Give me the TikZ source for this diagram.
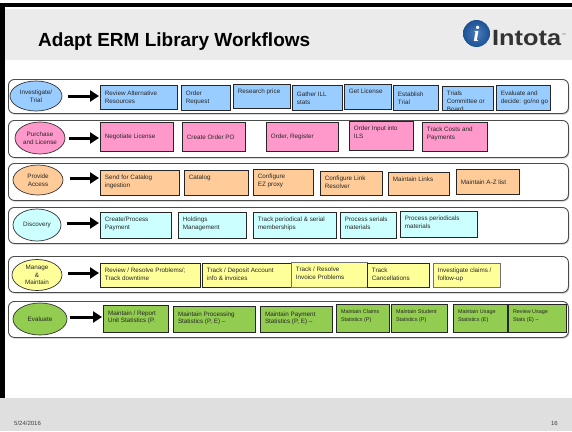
\documentclass[tikz,border=0pt]{standalone}
\usepackage{fontspec}
\setmainfont{Liberation Sans}
\newfontfamily\serifit{Liberation Serif}
\usetikzlibrary{shapes.geometric,arrows.meta,shadows}
\definecolor{blueF}{HTML}{99CCFF}
\definecolor{pinkF}{HTML}{FF99CC}
\definecolor{orangeF}{HTML}{FFCC99}
\definecolor{cyanF}{HTML}{CCFFFF}
\definecolor{yellowF}{HTML}{FFFF99}
\definecolor{greenF}{HTML}{92CC50}
\definecolor{bandgray}{HTML}{EBEBEB}
\definecolor{logoblue}{HTML}{1F5AA6}
\newcommand\bx[8]{%
  \pgfmathsetmacro\bxw{#5-#3}%
  \pgfmathsetmacro\bxh{#6-#4}%
  \pgfmathsetmacro\bxtw{#5-#3-9}%
  \pgfmathsetmacro\bxth{#6-#4-10}%
  \node[#1, anchor=north west, minimum width=\bxw pt, minimum height=\bxh pt] (#2) at (#3,#4)
    {\parbox[c][\bxth pt][#7]{\bxtw pt}{\raggedright #8}};%
}
\tikzset{
  boxn/.style={draw=black!85, line width=0.8pt, inner sep=0pt, text=black!85,
    font=\fontsize{6.3}{7.8}\selectfont},
  graybox/.style={boxn, draw=black!55},
  rowbox/.style={draw=black!70, line width=0.9pt, rounded corners=6pt, fill=white,
    inner sep=0pt, drop shadow={opacity=0.45, shadow xshift=0.8pt, shadow yshift=-1.2pt}},
  ell/.style={ellipse, draw=black!80, line width=0.7pt, inner sep=0pt, align=center,
    text=black!85, font=\fontsize{6.3}{7.8}\selectfont},
  bigarrow/.style={line width=3pt, -{Triangle[length=9pt,width=11pt]}, shorten >=1pt},
  small/.style={font=\fontsize{5.4}{7.6}\selectfont}
}
\begin{document}
\begin{tikzpicture}[x=1pt,y=-1pt]
\useasboundingbox (0,0) rectangle (572,431);
\fill[white] (0,0) rectangle (572,431);
% header and footer bands
\fill[bandgray] (0,8.5) rectangle (572,60);
\fill[bandgray!95!black] (0,398) rectangle (572,431);
\fill[black] (0,2.5) rectangle (572,6.5);
\fill[black] (0,2.5) rectangle (5,398);
% title
\node[anchor=base west, inner sep=0pt, font=\fontsize{19}{22}\selectfont\bfseries] (title) at (38,46) {Adapt ERM Library Workflows};
% logo
\node[circle, minimum size=27pt, inner sep=0pt, shade, inner color=logoblue!80!white, outer color=logoblue!90!black] (logo) at (476.5,33.5) {};
\node[inner sep=0pt, text=white, font=\fontsize{22}{22}\serifit\bfseries\itshape] (logoi) at (logo.center) {i};
\node[anchor=base west, inner sep=0pt, text=black!80, font=\fontsize{22}{22}\selectfont\bfseries] (intota) at (492,45) {\scalebox{1.15}[1]{Intota}};
\node[anchor=north west, inner sep=0pt, xshift=0.5pt, yshift=-4pt, text=black!60, font=\fontsize{4}{4}\selectfont] (tm) at (intota.north east) {™};
% footer
\node[anchor=base west, inner sep=0pt, text=black!75, font=\fontsize{6}{7}\selectfont] (date) at (14,425) {5/24/2016};
\node[anchor=base east, inner sep=0pt, text=black!75, font=\fontsize{6}{7}\selectfont] (pnum) at (558,425) {16};
% rows
\node[rowbox, anchor=north west, minimum width=560pt, minimum height=34pt] (r1) at (8,79) {};
\node[rowbox, anchor=north west, minimum width=560pt, minimum height=37pt] (r2) at (8,120) {};
\node[rowbox, anchor=north west, minimum width=560pt, minimum height=37pt] (r3) at (8,163) {};
\node[rowbox, anchor=north west, minimum width=560pt, minimum height=36pt] (r4) at (8,207) {};
\node[rowbox, anchor=north west, minimum width=560pt, minimum height=36pt] (r5) at (8,256) {};
\node[rowbox, anchor=north west, minimum width=560pt, minimum height=36pt] (r6) at (8,301) {};
% ellipses
\node[ell, fill=blueF, minimum width=52pt, minimum height=30pt] (e1) at (36,96) {Investigate/\\Trial};
\node[ell, fill=pinkF, minimum width=50pt, minimum height=32pt] (e2) at (40,138) {Purchase\\and License};
\node[ell, fill=orangeF, minimum width=50pt, minimum height=30pt] (e3) at (38,180) {Provide\\Access};
\node[ell, fill=cyanF, minimum width=48pt, minimum height=32pt] (e4) at (37,225) {Discovery};
\node[ell, fill=yellowF, minimum width=50pt, minimum height=31pt] (e5) at (37,275) {Manage\\\&\\Maintain};
\node[ell, fill=greenF, minimum width=54pt, minimum height=32pt] (e6) at (40,319) {Evaluate};
% row 1
\bx{boxn, fill=blueF}{b11}{100}{85}{177}{109}{c}{Review Alternative\\Resources}
\bx{boxn, fill=blueF}{b12}{181}{85}{230}{110}{c}{Order\\Request}
\bx{boxn, fill=blueF}{b13}{233}{84}{290}{108}{t}{Research price}
\bx{boxn, fill=blueF}{b14}{292}{85}{342}{110}{c}{Gather ILL\\stats}
\bx{boxn, fill=blueF}{b15}{344}{84}{391}{109}{t}{Get License}
\bx{boxn, fill=blueF}{b16}{393}{85}{438}{110}{c}{Establish\\Trial}
\begin{scope}
\clip (440,83) rectangle (495,112.5);
\bx{boxn, fill=blueF}{b17}{442}{86}{493}{110}{t}{Trials\\Committee or\\Board}
\end{scope}
\bx{boxn, fill=blueF}{b18}{496}{85}{550}{110}{c}{Evaluate and\\\mbox{decide: go/no go}}
% row 2
\bx{boxn, fill=pinkF}{b21}{100}{122}{173}{151}{c}{Negotiate License}
\bx{boxn, fill=pinkF}{b22}{182}{122}{245}{151}{c}{Create Order PO}
\bx{boxn, fill=pinkF}{b23}{266}{122}{338}{151}{c}{Order, Register}
\bx{boxn, fill=pinkF}{b24}{349}{121}{413}{150}{t}{Order Input into\\ILS}
\bx{boxn, fill=pinkF}{b25}{422}{122}{487}{151}{t}{Track Costs and\\Payments}
% row 3
\bx{boxn, fill=orangeF}{b31}{100}{170}{179}{195}{t}{Send for Catalog\\ingestion}
\bx{boxn, fill=orangeF}{b32}{184}{170}{248}{195}{t}{Catalog}
\bx{boxn, fill=orangeF}{b33}{253}{169}{313}{195}{t}{Configure\\EZ proxy}
\bx{boxn, fill=orangeF}{b34}{320}{171}{382}{195}{t}{Configure Link\\Resolver}
\bx{boxn, fill=orangeF}{b35}{388}{172}{449}{195}{t}{Maintain Links}
\bx{boxn, fill=orangeF}{b36}{456}{169}{519}{194}{c}{Maintain A-Z list}
% row 4
\bx{boxn, fill=cyanF}{b41}{100}{212}{171}{238}{t}{Create/Process\\Payment}
\bx{boxn, fill=cyanF}{b42}{178}{212}{246}{238}{t}{Holdings\\Management}
\bx{boxn, fill=cyanF}{b43}{253}{212}{336}{238}{t}{Track periodical \& serial\\memberships}
\bx{boxn, fill=cyanF}{b44}{340}{212}{396}{238}{t}{Process serials\\materials}
\bx{boxn, fill=cyanF}{b45}{400}{211}{477}{237}{t}{Process periodicals\\materials}
% row 5
\bx{boxn, fill=yellowF}{b51}{100}{263}{200}{287}{t}{Review / Resolve Problems/;\\Track downtime}
\bx{boxn, fill=yellowF}{b52}{202}{263}{291}{287}{t}{Track / Deposit Account\\info \& invoices}
\bx{graybox, fill=yellowF}{b53}{291}{262}{367}{287}{t}{Track / Resolve\\Invoice Problems}
\bx{boxn, fill=yellowF}{b54}{367}{263}{429}{287}{t}{Track\\Cancellations}
\bx{graybox, fill=yellowF}{b55}{433}{263}{500}{287}{t}{Investigate claims /\\follow-up}
% row 6
\bx{boxn, fill=greenF, line width=1pt}{b61}{103}{305}{168}{332}{t}{Maintain / Report\\Unit Statistics (P.}
\bx{boxn, fill=greenF, line width=1pt}{b62}{173}{306}{255}{332}{t}{Maintain Processing\\Statistics (P, E) –}
\bx{boxn, fill=greenF, line width=1pt}{b63}{260}{306}{332}{332}{t}{Maintain Payment\\Statistics (P, E) –}
\bx{boxn, small, fill=greenF, line width=1pt}{b64}{336}{304}{389}{332}{t}{Maintain Claims\\Statistics (P)}
\bx{boxn, small, fill=greenF, line width=1pt}{b65}{391}{304}{447}{332}{t}{Maintain Student\\Statistics (P)}
\bx{boxn, small, fill=greenF, line width=1pt}{b66}{453}{304}{507}{332}{t}{Maintain Usage\\Statistics (E)}
\bx{boxn, small, fill=greenF, line width=1pt}{b67}{508}{304}{566}{332}{t}{Review Usage\\Stats (E) –}
% arrows
\draw[bigarrow] ([xshift=6pt]e1.east) -- (e1.east -| b11.west);
\draw[bigarrow] ([xshift=4pt]e2.east) -- (e2.east -| b21.west);
\draw[bigarrow] ([xshift=7pt]e3.east |- 0,178) -- (b31.west |- 0,178);
\draw[bigarrow] ([xshift=6pt]e4.east |- 0,223) -- (b41.west |- 0,223);
\draw[bigarrow] ([xshift=6pt]e5.east |- 0,273) -- (b51.west |- 0,273);
\draw[bigarrow] ([xshift=3pt]e6.east |- 0,317) -- (b61.west |- 0,317);
\end{tikzpicture}
\end{document}
